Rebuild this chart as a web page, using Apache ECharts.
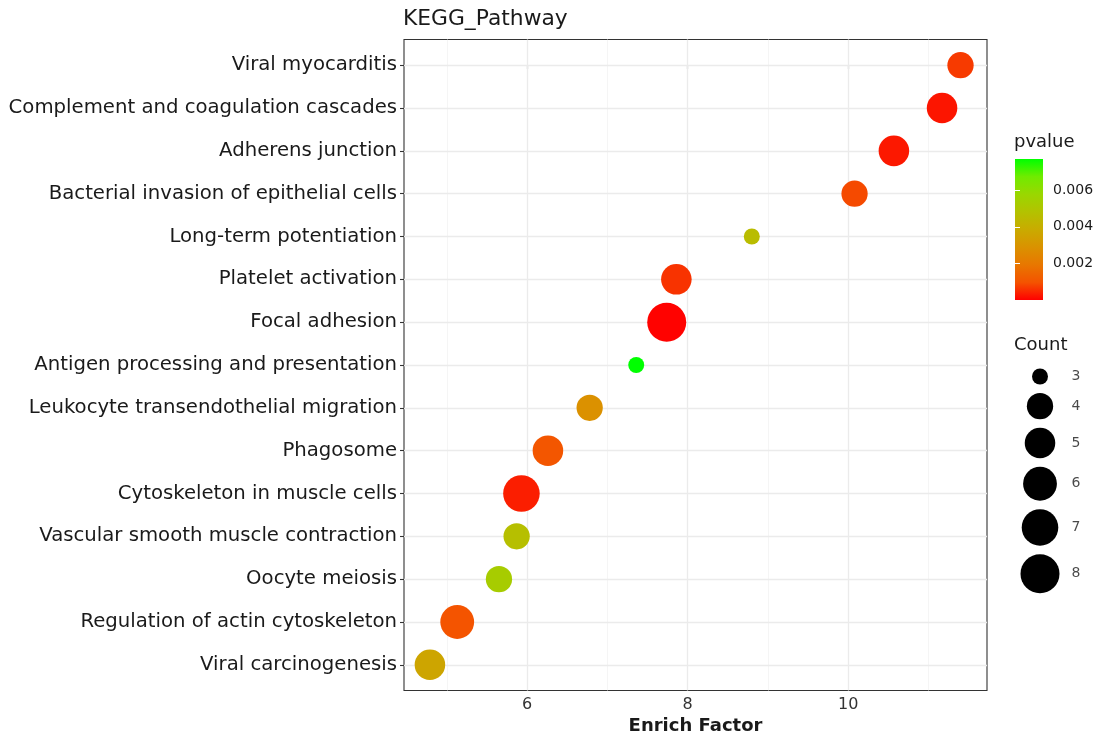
<!DOCTYPE html>
<html>
<head>
<meta charset="utf-8">
<script src="https://cdn.jsdelivr.net/npm/echarts@6/dist/echarts.min.js"></script>
<style>
html,body{margin:0;padding:0;background:#fff;}
#chart{width:1099px;height:736px;}
</style>
</head>
<body>
<div id="chart"></div>
<script>
// ---- data ----
const categories = [
  "Viral myocarditis",
  "Complement and coagulation cascades",
  "Adherens junction",
  "Bacterial invasion of epithelial cells",
  "Long-term potentiation",
  "Platelet activation",
  "Focal adhesion",
  "Antigen processing and presentation",
  "Leukocyte transendothelial migration",
  "Phagosome",
  "Cytoskeleton in muscle cells",
  "Vascular smooth muscle contraction",
  "Oocyte meiosis",
  "Regulation of actin cytoskeleton",
  "Viral carcinogenesis"
];
const enrichFactor = [11.40, 11.17, 10.57, 10.08, 8.80, 7.86, 7.74, 7.36, 6.78, 6.26, 5.93, 5.87, 5.65, 5.13, 4.79];
const pValues = [0.00067, 0.00024, 0.00028, 0.00086, 0.00455, 0.00059, 0.00002, 0.0077, 0.00285, 0.00104, 0.00035, 0.0047, 0.00527, 0.0010, 0.0036];
const counts = [4, 5, 5, 4, 3, 5, 8, 3, 4, 5, 7, 4, 4, 6, 5];
const xTickValues = [6, 8, 10];
const xMinorValues = [5, 7, 9, 11];
const pTickValues = [0.002, 0.004, 0.006];
const countBreaks = [3, 4, 5, 6, 7, 8];

// ---- styles / scales ----
const P_MIN = 0, P_MAX = 0.0077;
const COLOR_STOPS = ['#FF0000','#F45300','#E87700','#DA9200','#C9AB00','#B3C200','#9AD700','#70EB00','#00FF00'];
const C_MIN = 3, C_MAX = 8, D_MIN = 16, D_MAX = 39;
function diam(c){ return D_MIN + (D_MAX - D_MIN) * Math.sqrt((c - C_MIN) / (C_MAX - C_MIN)); }
const FONT = 'DejaVu Sans';
const TXT = '#1a1a1a';

const scatterData = categories.map((name, i) => [enrichFactor[i], i, pValues[i], counts[i], name]);

const hLines = categories.map((_, i) => ({ yAxis: i, lineStyle: { color: '#EBEBEB', width: 1.3, type: 'solid' } }));
const vMajor = xTickValues.map(v => ({ xAxis: v, lineStyle: { color: '#EBEBEB', width: 1.3, type: 'solid' } }));
const vMinor = xMinorValues.map(v => ({ xAxis: v, lineStyle: { color: '#F2F2F2', width: 0.8, type: 'solid' } }));

// count legend positions (stacked keys)
const legY = [];
{
  let y = 15.5;
  countBreaks.forEach((c, i) => {
    if (i > 0) y += (diam(countBreaks[i - 1]) + diam(c)) / 2 + 8.5;
    legY.push(y);
  });
}

const chart = echarts.init(document.getElementById('chart'), null, { renderer: 'canvas' });
const option = {
  animation: false,
  backgroundColor: '#ffffff',
  title: [
    { text: 'KEGG_Pathway', left: 403, top: 8, padding: 0, textStyle: { fontFamily: FONT, fontSize: 21.8, fontWeight: 'normal', color: TXT } },
    { text: 'pvalue', left: 1014, top: 133, padding: 0, textStyle: { fontFamily: FONT, fontSize: 18, fontWeight: 'normal', color: TXT } },
    { text: 'Count', left: 1014, top: 336, padding: 0, textStyle: { fontFamily: FONT, fontSize: 18, fontWeight: 'normal', color: TXT } }
  ],
  grid: [
    { left: 404, right: 112, top: 39.5, bottom: 45.5, show: true, borderColor: '#333333', borderWidth: 1.1, backgroundColor: '#ffffff', outerBoundsMode: 'none', containLabel: false },
    { left: 1015, top: 159, width: 28, height: 141, outerBoundsMode: 'none' },
    { left: 1040, top: 361, width: 36, height: 230, outerBoundsMode: 'none' }
  ],
  xAxis: [
    {
      type: 'value', gridIndex: 0, min: 4.467, max: 11.73,
      name: 'Enrich Factor', nameLocation: 'middle', nameGap: 25,
      nameTextStyle: { fontFamily: FONT, fontSize: 18, fontWeight: 'bold', color: TXT },
      axisLine: { show: false },
      axisTick: { show: true, customValues: xTickValues, length: 4, lineStyle: { color: '#333333', width: 1.1 } },
      axisLabel: { customValues: xTickValues, margin: 6, fontFamily: FONT, fontSize: 16, color: '#333333' },
      splitLine: { show: false }
    },
    { type: 'value', gridIndex: 1, min: 0, max: 1, show: false },
    { type: 'value', gridIndex: 2, min: 0, max: 1, show: false }
  ],
  yAxis: [
    {
      type: 'value', gridIndex: 0, min: -0.6, max: 14.6, inverse: true,
      axisLine: { show: false },
      axisTick: { show: true, customValues: categories.map((_, i) => i), length: 4, lineStyle: { color: '#333333', width: 1.1 } },
      axisLabel: { customValues: categories.map((_, i) => i), margin: 7, fontFamily: FONT, fontSize: 19.7, color: TXT,
        padding: [3, 0, 0, 0],
        formatter: v => categories[Math.round(v)] },
      splitLine: { show: false }
    },
    {
      type: 'value', gridIndex: 1, min: P_MIN, max: P_MAX, position: 'right', z: 10,
      axisLine: { show: false },
      axisTick: { show: true, inside: true, customValues: pTickValues, length: 5, lineStyle: { color: '#ffffff', width: 1 } },
      axisLabel: { customValues: pTickValues, margin: 10, fontFamily: FONT, fontSize: 14, color: TXT,
        padding: [2, 0, 0, 0],
        formatter: v => v.toFixed(3) },
      splitLine: { show: false }
    },
    {
      type: 'value', gridIndex: 1, min: P_MIN, max: P_MAX, position: 'left', z: 10,
      axisLine: { show: false },
      axisTick: { show: true, inside: true, customValues: pTickValues, length: 5, lineStyle: { color: '#ffffff', width: 1 } },
      axisLabel: { show: false },
      splitLine: { show: false }
    },
    { type: 'value', gridIndex: 2, min: 0, max: 230, inverse: true, show: false }
  ],
  visualMap: [{
    type: 'continuous', show: false, seriesIndex: 0, dimension: 2,
    min: P_MIN, max: P_MAX, inRange: { color: COLOR_STOPS }
  }],
  series: [
    {
      type: 'scatter', xAxisIndex: 0, yAxisIndex: 0, z: 5,
      data: scatterData,
      symbol: 'circle',
      symbolSize: v => diam(v[3]),
      itemStyle: { opacity: 1 }
    },
    {
      type: 'scatter', xAxisIndex: 0, yAxisIndex: 0, z: 1, data: [], silent: true,
      markLine: {
        silent: true, symbol: ['none', 'none'], label: { show: false }, animation: false,
        data: [...vMinor, ...vMajor, ...hLines]
      }
    },
    {
      type: 'custom', xAxisIndex: 1, yAxisIndex: 1, z: 2, silent: true,
      data: [[0, P_MAX]],
      renderItem: (params, api) => {
        const p0 = api.coord([0, P_MIN]);
        const p1 = api.coord([1, P_MAX]);
        const stops = COLOR_STOPS.map((c, i) => ({ offset: i / (COLOR_STOPS.length - 1), color: c }));
        return {
          type: 'rect',
          shape: { x: p0[0], y: p1[1], width: p1[0] - p0[0], height: p0[1] - p1[1] },
          style: { fill: new echarts.graphic.LinearGradient(0, 1, 0, 0, stops) }
        };
      }
    },
    {
      type: 'scatter', xAxisIndex: 2, yAxisIndex: 3, silent: true,
      data: countBreaks.map((c, i) => [0, legY[i], c]),
      symbol: 'circle',
      symbolSize: v => diam(v[2]),
      itemStyle: { color: '#000000', opacity: 1 }
    },
    {
      type: 'scatter', xAxisIndex: 2, yAxisIndex: 3, silent: true,
      data: countBreaks.map((c, i) => [1, legY[i], c]),
      symbolSize: 1,
      itemStyle: { color: 'rgba(0,0,0,0)' },
      label: { show: true, position: 'inside', formatter: p => String(p.value[2]), fontFamily: FONT, fontSize: 14, color: TXT, padding: [2, 0, 0, 0] }
    }
  ]
};
chart.setOption(option);
</script>
</body>
</html>
